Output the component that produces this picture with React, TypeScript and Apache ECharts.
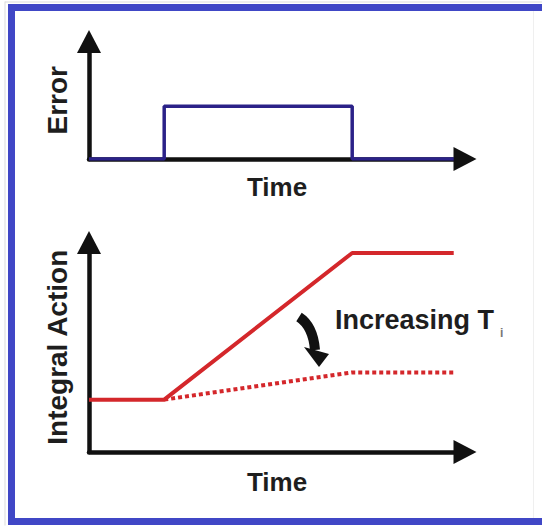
import React, { useEffect, useRef } from "react";
import * as echarts from "echarts";

// Top panel: error step (time, error)
const errorPoints: number[][] = [
  [0, 0],
  [2, 0],
  [2, 4.5],
  [7, 4.5],
  [7, 0],
  [9.7, 0],
];
// Bottom panel: integral action, small Ti (solid)
const integralFast: number[][] = [
  [0, 2.5],
  [2, 2.5],
  [7, 9.5],
  [9.7, 9.5],
];
// Bottom panel: integral action, increased Ti (dotted)
const integralSlow: number[][] = [
  [2, 2.5],
  [7, 3.8],
  [9.7, 3.8],
];
const xTitle = "Time";
const topYTitle = "Error";
const bottomYTitle = "Integral Action";
const annotation = "Increasing T";
const annotationSub = "i";

const FONT = "'Liberation Sans', Arial, sans-serif";
const AXIS_COLOR = "#111";
const TEXT_COLOR = "#1e1e1e";
const BORDER = "#4047c6";

export default function App() {
  const ref = useRef<HTMLDivElement>(null);
  useEffect(() => {
    if (!ref.current) return;
    const chart = echarts.init(ref.current, undefined, { renderer: "svg" });
    const axisLine = {
      show: true,
      onZero: false,
      symbol: ["none", "triangle"],
      symbolSize: [24, 23],
      lineStyle: { color: AXIS_COLOR, width: 4.5 },
    };
    const xAxisBase = {
      type: "value",
      min: 0,
      max: 10,
      axisLine,
      axisTick: { show: false },
      axisLabel: { show: false },
      splitLine: { show: false },
      name: xTitle,
      nameLocation: "middle",
      nameTextStyle: { fontFamily: FONT, fontWeight: "bold", fontSize: 26, color: TEXT_COLOR },
    };
    const yAxisBase = {
      type: "value",
      min: 0,
      max: 10,
      axisLine,
      axisTick: { show: false },
      axisLabel: { show: false },
      splitLine: { show: false },
      nameLocation: "middle",
      nameRotate: 90,
      nameGap: 18,
      nameTextStyle: { fontFamily: FONT, fontWeight: "bold", fontSize: 28, color: TEXT_COLOR },
    };
    chart.setOption({
      animation: false,
      backgroundColor: "#ffffff",
      grid: [
        { left: 89, right: 77, top: 41.5, height: 117.5 },
        { left: 89, right: 77, top: 242.5, height: 209.5 },
      ],
      xAxis: [
        { ...xAxisBase, gridIndex: 0, nameGap: 15 },
        { ...xAxisBase, gridIndex: 1, nameGap: 17 },
      ],
      yAxis: [
        { ...yAxisBase, gridIndex: 0, name: topYTitle },
        { ...yAxisBase, gridIndex: 1, name: bottomYTitle },
      ],
      series: [
        {
          type: "line",
          xAxisIndex: 0,
          yAxisIndex: 0,
          data: errorPoints,
          showSymbol: false,
          symbol: "none",
          lineStyle: { color: "#2b2288", width: 3.5 },
          z: 5,
        },
        {
          type: "line",
          xAxisIndex: 1,
          yAxisIndex: 1,
          data: integralFast,
          showSymbol: false,
          symbol: "none",
          lineStyle: { color: "#d4272b", width: 4 },
          z: 5,
        },
        {
          type: "line",
          xAxisIndex: 1,
          yAxisIndex: 1,
          data: integralSlow,
          showSymbol: false,
          symbol: "none",
          lineStyle: { color: "#d4272b", width: 4, type: [4, 3] },
          z: 4,
        },
      ],
      graphic: [
        {
          type: "rect",
          shape: { x: 5, y: 1.5, width: 537, height: 1 },
          style: { fill: "#dcdcdc" },
          silent: true,
        },
        {
          type: "rect",
          shape: { x: 4.5, y: 1.5, width: 1, height: 524 },
          style: { fill: "#dcdcdc" },
          silent: true,
        },
        {
          type: "rect",
          shape: { x: 8, y: 4, width: 534, height: 7 },
          style: { fill: BORDER },
          silent: true,
        },
        {
          type: "rect",
          shape: { x: 8, y: 4, width: 7, height: 521 },
          style: { fill: BORDER },
          silent: true,
        },
        {
          type: "rect",
          shape: { x: 8, y: 518, width: 534, height: 7 },
          style: { fill: BORDER },
          silent: true,
        },
        {
          type: "rect",
          shape: { x: 533, y: 11, width: 1, height: 507 },
          style: { fill: "#efefef" },
          silent: true,
        },
        {
          type: "text",
          x: 335,
          y: 306,
          style: {
            text: annotation,
            fontFamily: FONT,
            fontWeight: "bold",
            fontSize: 27,
            fill: TEXT_COLOR,
            verticalAlign: "top",
          },
        },
        {
          type: "text",
          x: 500,
          y: 327,
          style: {
            text: annotationSub,
            fontFamily: FONT,
            fontWeight: "bold",
            fontSize: 12,
            fill: "#777",
            verticalAlign: "top",
          },
        },
        {
          type: "bezierCurve",
          shape: { x1: 299, y1: 317, x2: 315, y2: 350, cpx1: 313, cpy1: 326 },
          style: { stroke: "#111", lineWidth: 10, fill: "none" },
        },
        {
          type: "polygon",
          shape: { points: [[304, 347], [329, 354], [319, 367]] },
          style: { fill: "#111" },
        },
      ],
    });
    return () => chart.dispose();
  }, []);
  return (
    <div
      ref={ref}
      style={{ position: "fixed", left: 0, top: 0, width: 542, height: 526, background: "#fff" }}
    />
  );
}
